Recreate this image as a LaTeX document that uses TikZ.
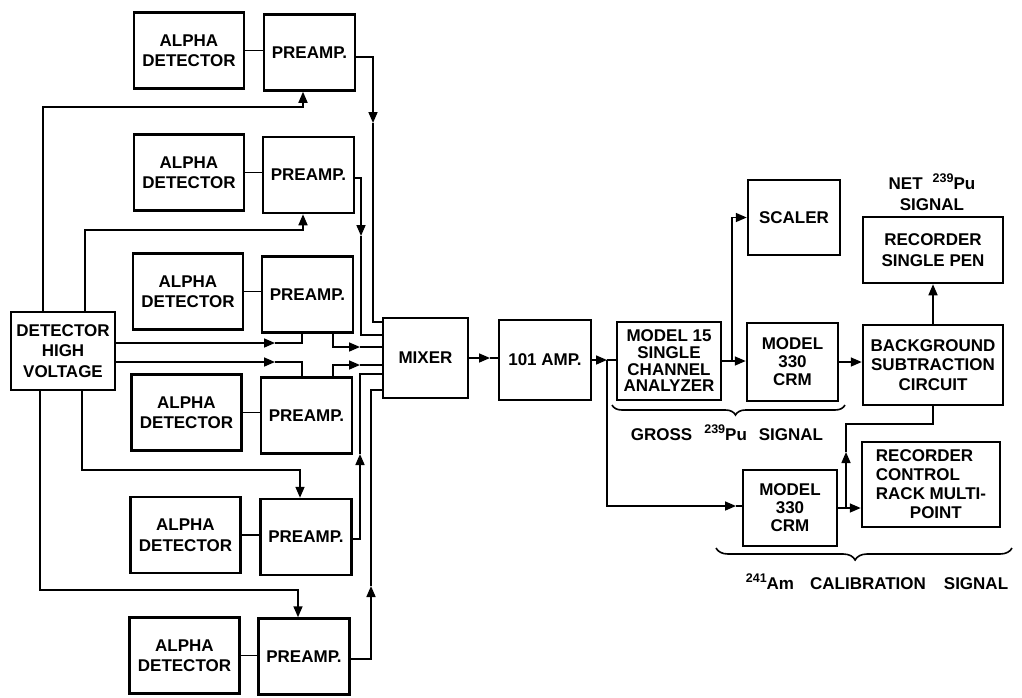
\documentclass[tikz,border=0pt]{standalone}
\usepackage{fontspec}
\setmainfont{Liberation Sans}
\usetikzlibrary{arrows.meta,decorations.pathreplacing}
\newcommand{\iso}[1]{\raisebox{0.75ex}{\fontsize{12.5}{12.5}\selectfont #1}}
\begin{document}
\begin{tikzpicture}[x=1pt,y=-1pt,
  box/.style={draw,line width=2.5pt,inner sep=0pt,align=center,
    font=\fontsize{17}{20.5}\selectfont\bfseries},
  abox/.style={box,minimum width=110pt,minimum height=76pt},
  pbox/.style={box,minimum width=91pt,minimum height=76pt},
  conn/.style={line width=1.6pt},
  tip/.style={-{Triangle[length=11pt,width=9pt]}},
  lbl/.style={font=\fontsize{17}{20}\selectfont\bfseries,inner sep=0pt},
  brc/.style={line width=1.6pt,decorate}]
\useasboundingbox (0,0) rectangle (1022,697);

% detectors and preamps
\node[abox] (a1) at (189,50.5) {ALPHA\\DETECTOR};
\node[pbox] (p1) at (309.5,52.5) {PREAMP.};
\node[abox] (a2) at (189,172.5) {ALPHA\\DETECTOR};
\node[pbox] (p2) at (308.5,175) {PREAMP.};
\node[abox] (a3) at (188,291.5) {ALPHA\\DETECTOR};
\node[pbox] (p3) at (307.5,294.5) {PREAMP.};
\node[abox] (a4) at (186.5,412.5) {ALPHA\\DETECTOR};
\node[pbox] (p4) at (306.5,415.5) {PREAMP.};
\node[abox] (a5) at (185.5,535) {ALPHA\\DETECTOR};
\node[pbox] (p5) at (306,537) {PREAMP.};
\node[abox] (a6) at (184.5,655.5) {ALPHA\\DETECTOR};
\node[pbox] (p6) at (304,656.5) {PREAMP.};

\node[box,minimum width=104pt,minimum height=78pt] (hv) at (63,351) {DETECTOR\\HIGH\\VOLTAGE};
\node[box,minimum width=85pt,minimum height=80pt] (mx) at (425.5,358) {MIXER};
\node[box,minimum width=92pt,minimum height=80pt] (amp) at (545,360) {101 AMP.};
\node[box,minimum width=104pt,minimum height=78pt,
  font=\fontsize{17}{16.7}\selectfont\bfseries] (sca) at (669,361) {MODEL 15\\SINGLE\\CHANNEL\\ANALYZER};
\node[box,minimum width=91pt,minimum height=78pt,
  font=\fontsize{17}{18}\selectfont\bfseries] (crm1) at (792.5,362) {MODEL\\330\\CRM};
\node[box,minimum width=92pt,minimum height=75pt] (scl) at (794,217.5) {SCALER};
\node[box,minimum width=140pt,minimum height=80pt,
  font=\fontsize{17}{19.5}\selectfont\bfseries] (bsc) at (933,365) {BACKGROUND\\SUBTRACTION\\CIRCUIT};
\node[box,minimum width=140pt,minimum height=66pt] (rsp) at (933,250) {RECORDER\\SINGLE PEN};
\node[box,minimum width=94pt,minimum height=76pt,
  font=\fontsize{17}{18}\selectfont\bfseries] (crm2) at (790,508) {MODEL\\330\\CRM};
\node[box,minimum width=138pt,minimum height=85pt,align=left,
  font=\fontsize{17}{19}\selectfont\bfseries] (rcr) at (931,484.5) {RECORDER\\CONTROL\\RACK MULTI-\\\hspace*{34pt}POINT};

% labels
\node[lbl] (net) at (932,182) {NET\hspace{10pt}\iso{239}Pu};
\node[lbl] (netsig) at (932,205) {SIGNAL};
\node[lbl] (gross) at (727,433) {GROSS\hspace{12pt}\iso{239}Pu\hspace{12pt}SIGNAL};
\node[lbl] (am) at (877,582) {\iso{241}Am\hspace{16pt}CALIBRATION\hspace{18pt}SIGNAL};

% detector to preamp
\foreach \i in {1,...,6}{
  \draw[conn] (a\i.east) -- (p\i.west |- a\i.east);
}

% high voltage distribution
\coordinate (h1) at (43,107);  \coordinate (h1e) at (303,107);
\coordinate (h2) at (85,230);  \coordinate (h2e) at (303,230);
\coordinate (h3) at (302,343); \coordinate (h3a) at (275,343);
\coordinate (h4) at (302,362); \coordinate (h4a) at (275,362);
\coordinate (h5) at (82,470);  \coordinate (h5e) at (300,470);
\coordinate (h6) at (40,590);  \coordinate (h6e) at (298,590);
\draw[conn,tip] (hv.north -| h1) -- (h1) -- (h1e) -- (p1.south -| h1e);
\draw[conn,tip] (hv.north -| h2) -- (h2) -- (h2e) -- (p2.south -| h2e);
\draw[conn,tip] (hv.east |- h3) -- (h3a);
\draw[conn] (h3a) -- (h3) -- (p3.south -| h3);
\draw[conn,tip] (hv.east |- h4) -- (h4a);
\draw[conn] (h4a) -- (h4) -- (p4.north -| h4);
\draw[conn,tip] (hv.south -| h5) -- (h5) -- (h5e) -- (p5.north -| h5e);
\draw[conn,tip] (hv.south -| h6) -- (h6) -- (h6e) -- (p6.north -| h6e);

% preamp outputs to mixer
\coordinate (o1) at (373,57);  \coordinate (o1a) at (373,123); \coordinate (o1b) at (373,322);
\coordinate (o2) at (361,178); \coordinate (o2a) at (361,236); \coordinate (o2b) at (361,335);
\coordinate (o3) at (333,347); \coordinate (o3a) at (360,347);
\coordinate (o4) at (333,365); \coordinate (o4a) at (360,365);
\coordinate (o5) at (360,539); \coordinate (o5a) at (360,454); \coordinate (o5b) at (360,374);
\coordinate (o6) at (371,659); \coordinate (o6a) at (371,586); \coordinate (o6b) at (371,390);
\draw[conn,tip] (p1.east |- o1) -- (o1) -- (o1a);
\draw[conn] (o1a) -- (o1b) -- (mx.west |- o1b);
\draw[conn,tip] (p2.east |- o2) -- (o2) -- (o2a);
\draw[conn] (o2a) -- (o2b) -- (mx.west |- o2b);
\draw[conn,tip] (p3.south -| o3) -- (o3) -- (o3a);
\draw[conn] (o3a) -- (mx.west |- o3a);
\draw[conn,tip] (p4.north -| o4) -- (o4) -- (o4a);
\draw[conn] (o4a) -- (mx.west |- o4a);
\draw[conn,tip] (p5.east |- o5) -- (o5) -- (o5a);
\draw[conn] (o5a) -- (o5b) -- (mx.west |- o5b);
\draw[conn,tip] (p6.east |- o6) -- (o6) -- (o6a);
\draw[conn] (o6a) -- (o6b) -- (mx.west |- o6b);

% mixer to amp
\coordinate (m1) at (490,358);
\draw[conn,tip] (mx.east) -- (m1);
\draw[conn] (m1) -- (amp.west |- m1);

% amp to analyzer and calibration branch
\coordinate (j1) at (607,360);
\coordinate (j1d) at (607,506);
\coordinate (j1e) at (736,506);
\draw[conn,tip] (amp.east) -- (j1);
\draw[conn] (j1) -- (sca.west |- j1);
\draw[conn,tip] (j1) -- (j1d) -- (j1e);
\draw[conn] (j1e) -- (crm2.west |- j1e);

% analyzer to CRM and scaler
\coordinate (j2) at (732,361);
\draw[conn,tip] (sca.east) -- (crm1.west |- sca.east);
\draw[conn,tip] (sca.east -| j2) |- (scl.west);

% CRM to background subtraction to recorder
\draw[conn,tip] (crm1.east) -- (bsc.west |- crm1.east);
\draw[conn,tip] (bsc.north) -- (rsp.south);

% calibration CRM to recorder control and to subtraction circuit
\coordinate (j3) at (846,508);
\coordinate (k0) at (846,452);
\coordinate (k1) at (846,424);
\draw[conn] (crm2.east |- j3) -- (j3);
\draw[conn,tip] (j3) -- (rcr.west |- j3);
\draw[conn,tip] (j3) -- (k0);
\draw[conn] (k0) -- (k1) -| (bsc.south);

% braces
\draw[brc,decoration={brace,mirror,amplitude=10pt,aspect=0.53}] (612,405) -- (845,405);
\draw[brc,decoration={brace,mirror,amplitude=12pt,aspect=0.47}] (716,548) -- (1012,548);
\end{tikzpicture}
\end{document}
